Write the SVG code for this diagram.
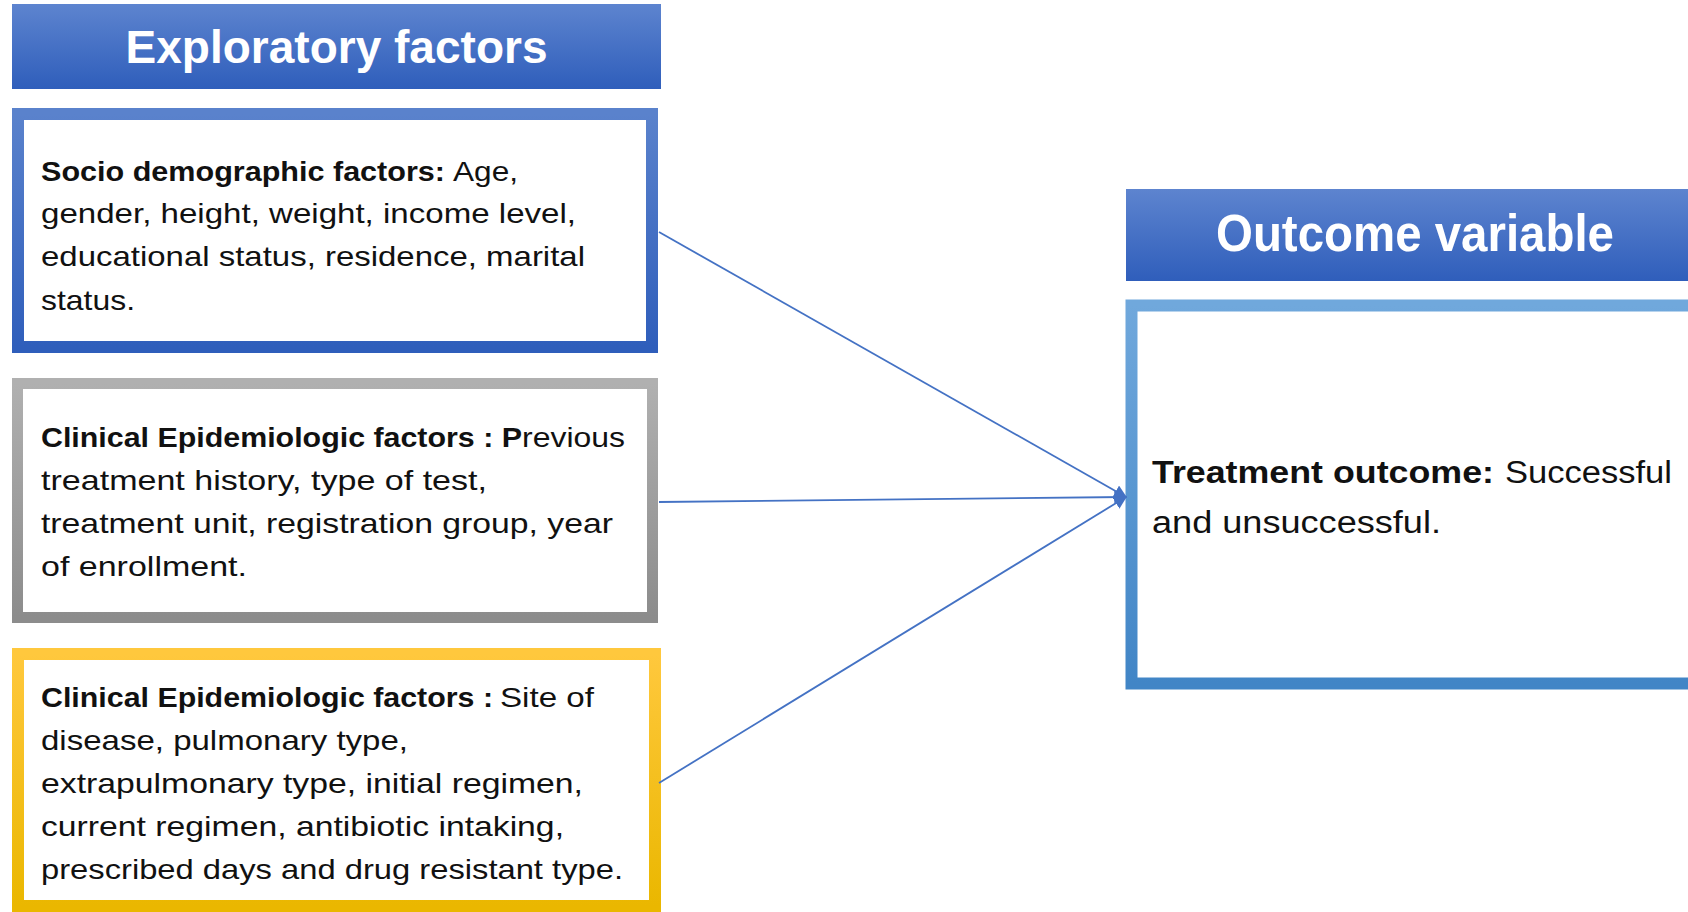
<svg xmlns="http://www.w3.org/2000/svg" width="1688" height="912" viewBox="0 0 1688 912">
<style>
.hdr{font-family:"Liberation Sans",Arial,sans-serif;font-weight:bold;fill:#ffffff;}
.t{font-family:"Liberation Sans",Arial,sans-serif;font-size:28px;fill:#111111;}
.t2{font-family:"Liberation Sans",Arial,sans-serif;font-size:31px;fill:#111111;}
.b{font-weight:bold;}
.box{fill:#ffffff;}
.conn{stroke:#4472c4;stroke-width:1.8;fill:none;}
</style>
<defs>
<linearGradient id="gHdr" x1="0" y1="0" x2="0" y2="1"><stop offset="0" stop-color="#5d84cf"/><stop offset="1" stop-color="#2f5ebb"/></linearGradient>
<linearGradient id="gBlue" x1="0" y1="0" x2="0" y2="1"><stop offset="0" stop-color="#5a82cc"/><stop offset="1" stop-color="#2f5ebb"/></linearGradient>
<linearGradient id="gGrey" x1="0" y1="0" x2="0" y2="1"><stop offset="0" stop-color="#b0b0b0"/><stop offset="1" stop-color="#8c8c8c"/></linearGradient>
<linearGradient id="gGold" x1="0" y1="0" x2="0" y2="1"><stop offset="0" stop-color="#ffc83d"/><stop offset="1" stop-color="#eab700"/></linearGradient>
<linearGradient id="gOut" x1="0" y1="0" x2="0" y2="1"><stop offset="0" stop-color="#70a8dc"/><stop offset="1" stop-color="#4185c6"/></linearGradient>
<marker id="arr" viewBox="0 0 10 10" refX="9" refY="5" markerWidth="13" markerHeight="13" markerUnits="userSpaceOnUse" orient="auto"><path d="M0,0 L10,5 L0,10 z" fill="#4472c4"/></marker>
</defs>

<g id="header-exploratory">
<rect x="12" y="4" width="649" height="85" fill="url(#gHdr)"/>
<text class="hdr" x="336.5" y="63" font-size="46" text-anchor="middle" textLength="422" lengthAdjust="spacingAndGlyphs">Exploratory factors</text>
</g>

<g id="box-socio">
<rect class="box" x="18" y="114" width="634" height="233" stroke="url(#gBlue)" stroke-width="12"/>
<text class="t" y="181"><tspan class="b" x="41" textLength="404" lengthAdjust="spacingAndGlyphs">Socio demographic factors:</tspan><tspan x="453" textLength="65" lengthAdjust="spacingAndGlyphs">Age,</tspan></text>
<text class="t" x="41" y="223" textLength="535" lengthAdjust="spacingAndGlyphs">gender, height, weight, income level,</text>
<text class="t" x="41" y="266" textLength="544" lengthAdjust="spacingAndGlyphs">educational status, residence, marital</text>
<text class="t" x="41" y="310" textLength="94" lengthAdjust="spacingAndGlyphs">status.</text>
</g>

<g id="box-clinical-1">
<rect class="box" x="17.5" y="383.5" width="635" height="234" stroke="url(#gGrey)" stroke-width="11"/>
<text class="t" y="447"><tspan class="b" x="41" textLength="481" lengthAdjust="spacingAndGlyphs">Clinical Epidemiologic factors : P</tspan><tspan x="522" textLength="103" lengthAdjust="spacingAndGlyphs">revious</tspan></text>
<text class="t" x="41" y="490" textLength="446" lengthAdjust="spacingAndGlyphs">treatment history, type of test,</text>
<text class="t" x="41" y="533" textLength="572" lengthAdjust="spacingAndGlyphs">treatment unit, registration group, year</text>
<text class="t" x="41" y="576" textLength="206" lengthAdjust="spacingAndGlyphs">of enrollment.</text>
</g>

<g id="box-clinical-2">
<rect class="box" x="18" y="654" width="637" height="252" stroke="url(#gGold)" stroke-width="12"/>
<text class="t" y="707"><tspan class="b" x="41" textLength="452" lengthAdjust="spacingAndGlyphs">Clinical Epidemiologic factors :</tspan><tspan x="500" textLength="94" lengthAdjust="spacingAndGlyphs">Site of</tspan></text>
<text class="t" x="41" y="750" textLength="367" lengthAdjust="spacingAndGlyphs">disease, pulmonary type,</text>
<text class="t" x="41" y="793" textLength="542" lengthAdjust="spacingAndGlyphs">extrapulmonary type, initial regimen,</text>
<text class="t" x="41" y="836" textLength="523" lengthAdjust="spacingAndGlyphs">current regimen, antibiotic intaking,</text>
<text class="t" x="41" y="879" textLength="582" lengthAdjust="spacingAndGlyphs">prescribed days and drug resistant type.</text>
</g>

<g id="header-outcome">
<rect x="1126" y="189" width="570" height="92" fill="url(#gHdr)"/>
<text class="hdr" x="1415" y="251" font-size="52" text-anchor="middle" textLength="398" lengthAdjust="spacingAndGlyphs">Outcome variable</text>
</g>

<g id="box-outcome">
<rect class="box" x="1131.5" y="305.5" width="600" height="378" stroke="url(#gOut)" stroke-width="12"/>
<text class="t2" y="483"><tspan class="b" x="1152" textLength="342" lengthAdjust="spacingAndGlyphs">Treatment outcome:</tspan><tspan x="1505" textLength="167" lengthAdjust="spacingAndGlyphs">Successful</tspan></text>
<text class="t2" x="1152" y="533" textLength="289" lengthAdjust="spacingAndGlyphs">and unsuccessful.</text>
</g>

<g id="connectors">
<line class="conn" x1="659" y1="232" x2="1126" y2="497" marker-end="url(#arr)"/>
<line class="conn" x1="659" y1="502" x2="1126" y2="497" marker-end="url(#arr)"/>
<line class="conn" x1="659" y1="783" x2="1126" y2="497" marker-end="url(#arr)"/>
</g>
</svg>
